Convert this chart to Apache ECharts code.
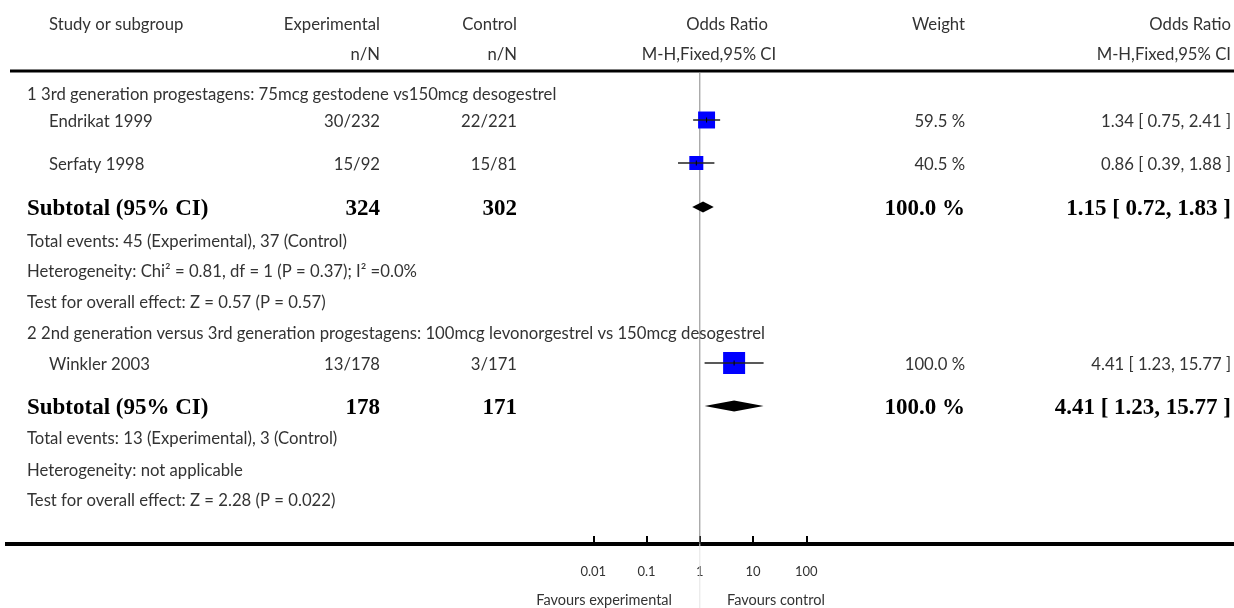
<!DOCTYPE html>
<html>
<head>
<meta charset="utf-8">
<title>Forest plot</title>
<script src="https://cdn.jsdelivr.net/npm/echarts@6/dist/echarts.min.js"></script>
<style>
  html, body { margin: 0; padding: 0; background: #fff; }
  #chart { width: 1234px; height: 608px; }
</style>
</head>
<body>
<div id="chart"></div>
<script>
// ---- Study-level data ----
const studyNames   = ['Endrikat 1999', 'Serfaty 1998', 'Winkler 2003'];
const studyGroup   = [0, 0, 1];
const expEvents    = [30, 15, 13];
const expTotal     = [232, 92, 178];
const ctrlEvents   = [22, 15, 3];
const ctrlTotal    = [221, 81, 171];
const studyOR      = [1.34, 0.86, 4.41];
const studyLow     = [0.75, 0.39, 1.23];
const studyHigh    = [2.41, 1.88, 15.77];
const studyWeight  = [59.5, 40.5, 100.0];

// ---- Subgroup data ----
const groupTitles  = [
  '1 3rd generation progestagens: 75mcg gestodene vs150mcg desogestrel',
  '2 2nd generation versus 3rd generation progestagens: 100mcg levonorgestrel vs 150mcg desogestrel'
];
const subExpTotal  = [324, 178];
const subCtrlTotal = [302, 171];
const subOR        = [1.15, 4.41];
const subLow       = [0.72, 1.23];
const subHigh      = [1.83, 15.77];
const subWeight    = [100.0, 100.0];
const subExpEvents = [45, 13];
const subCtrlEvents= [37, 3];
const heterogeneity = [
  'Heterogeneity: Chi² = 0.81, df = 1 (P = 0.37); I² =0.0%',
  'Heterogeneity: not applicable'
];
const overallEffect = [
  'Test for overall effect: Z = 0.57 (P = 0.57)',
  'Test for overall effect: Z = 2.28 (P = 0.022)'
];

// ---- Axis ticks ----
const tickValues = [0.01, 0.1, 1, 10, 100];
const tickLabels = ['0.01', '0.1', '1', '10', '100'];

// ---- Layout ----
const SANS = 'Lato';
const SERIF = '"Liberation Serif", "Times New Roman", serif';
const sansSize = 16.7;
const boldSize = 23;
const textColor = '#333';
const col = { name: 27, study: 49, exp: 380, ctrl: 517, weight: 965, ci: 1231 };
const axisY = 544;
const firstRowY = 95;
// vertical distance from each row to the next one
const rowGaps = [27, 43, 44, 33, 30, 31, 31, 31, 43, 31, 32, 30];
const markShift = -2;

// Build the row list and vertical positions.
const rows = [];
groupTitles.forEach((title, g) => {
  rows.push({ type: 'header', text: title });
  studyNames.forEach((n, i) => { if (studyGroup[i] === g) rows.push({ type: 'study', idx: i }); });
  rows.push({ type: 'subtotal', idx: g });
  rows.push({ type: 'info', text: 'Total events: ' + subExpEvents[g] + ' (Experimental), ' + subCtrlEvents[g] + ' (Control)' });
  rows.push({ type: 'info', text: heterogeneity[g] });
  rows.push({ type: 'info', text: overallEffect[g] });
});
let yPos = firstRowY;
rows.forEach((r, k) => {
  if (k > 0) yPos += rowGaps[k - 1];
  r.y = yPos;
});

const fmt2 = v => v.toFixed(2);
const ciText = (o, l, h) => fmt2(o) + ' [ ' + fmt2(l) + ', ' + fmt2(h) + ' ]';

// ---- Table text ----
const graphics = [];
function txt(x, y, s, align, opts) {
  opts = opts || {};
  graphics.push({
    type: 'text', x: x, y: y, silent: true, z: 5,
    style: {
      text: s, x: 0, y: 0,
      textAlign: align || 'left', textVerticalAlign: 'middle',
      font: (opts.bold ? 'bold ' : '') + (opts.size || sansSize) + 'px ' + (opts.family || SANS),
      fill: opts.color || textColor
    }
  });
}
// column headers
txt(col.study, 25, 'Study or subgroup', 'left');
txt(col.exp, 25, 'Experimental', 'right');
txt(col.ctrl, 25, 'Control', 'right');
txt(727, 25, 'Odds Ratio', 'center');
txt(col.weight, 25, 'Weight', 'right');
txt(col.ci, 25, 'Odds Ratio', 'right');
txt(col.exp, 55, 'n/N', 'right');
txt(col.ctrl, 55, 'n/N', 'right');
txt(709, 55, 'M-H,Fixed,95% CI', 'center');
txt(col.ci, 55, 'M-H,Fixed,95% CI', 'right');

const bold = { bold: true, size: boldSize, family: SERIF, color: '#000' };
rows.forEach(r => {
  if (r.type === 'header' || r.type === 'info') {
    txt(col.name, r.y, r.text, 'left');
  } else if (r.type === 'study') {
    const i = r.idx;
    txt(col.study, r.y, studyNames[i], 'left');
    txt(col.exp, r.y, expEvents[i] + '/' + expTotal[i], 'right');
    txt(col.ctrl, r.y, ctrlEvents[i] + '/' + ctrlTotal[i], 'right');
    txt(col.weight, r.y, studyWeight[i].toFixed(1) + ' %', 'right');
    txt(col.ci, r.y, ciText(studyOR[i], studyLow[i], studyHigh[i]), 'right');
  } else if (r.type === 'subtotal') {
    const g = r.idx;
    txt(col.name, r.y, 'Subtotal (95% CI)', 'left', bold);
    txt(col.exp, r.y, String(subExpTotal[g]), 'right', bold);
    txt(col.ctrl, r.y, String(subCtrlTotal[g]), 'right', bold);
    txt(col.weight, r.y, subWeight[g].toFixed(1) + ' %', 'right', bold);
    txt(col.ci, r.y, ciText(subOR[g], subLow[g], subHigh[g]), 'right', bold);
  }
});
// rules
graphics.push({ type: 'line', z: 1, silent: true, shape: { x1: 10, y1: 71, x2: 1234, y2: 71 }, style: { stroke: '#000', lineWidth: 3 } });
graphics.push({ type: 'line', z: 1, silent: true, shape: { x1: 5, y1: axisY, x2: 1234, y2: axisY }, style: { stroke: '#000', lineWidth: 4 } });
txt(672, 600, 'Favours experimental', 'right', { size: 14.5 });
txt(727, 600, 'Favours control', 'left', { size: 14.5 });

// ---- Forest marks ----
// [or, low, high, y, weight, kind]   kind: 0 study, 1 subtotal, 2 line of no effect
const markData = [];
rows.forEach(r => {
  if (r.type === 'study') {
    const i = r.idx;
    markData.push([studyOR[i], studyLow[i], studyHigh[i], r.y + markShift, studyWeight[i], 0]);
  } else if (r.type === 'subtotal') {
    const g = r.idx;
    markData.push([subOR[g], subLow[g], subHigh[g], r.y + markShift, subWeight[g], 1]);
  }
});
markData.unshift([1, 1, 1, 0, 0, 2]);

function renderItem(params, api) {
  const kind = api.value(5);
  if (kind === 2) {
    const top = api.coord([1, 72]);
    const mid = api.coord([1, axisY]);
    const bot = api.coord([1, 608]);
    return {
      type: 'group', children: [
        { type: 'line', shape: { x1: top[0], y1: top[1], x2: mid[0], y2: mid[1] }, style: { stroke: '#888', lineWidth: 1 } },
        { type: 'line', shape: { x1: mid[0], y1: mid[1], x2: bot[0], y2: bot[1] }, style: { stroke: '#e4e4e4', lineWidth: 1 } }
      ]
    };
  }
  const y = api.value(3);
  const c = api.coord([api.value(0), y]);
  const lo = api.coord([api.value(1), y]);
  const hi = api.coord([api.value(2), y]);
  if (kind === 1) {
    const h = 5.5;
    return {
      type: 'polygon',
      shape: { points: [[lo[0], c[1]], [c[0], c[1] - h], [hi[0], c[1]], [c[0], c[1] + h]] },
      style: { fill: '#000' }
    };
  }
  const side = 22 * Math.sqrt(api.value(4) / 100);
  return {
    type: 'group', children: [
      { type: 'rect', shape: { x: c[0] - side / 2, y: c[1] - side / 2, width: side, height: side }, style: { fill: '#0000ff' } },
      { type: 'line', shape: { x1: lo[0], y1: c[1], x2: hi[0], y2: c[1] }, style: { stroke: '#222', lineWidth: 1.5 } },
      { type: 'line', shape: { x1: c[0], y1: c[1] - 2.5, x2: c[0], y2: c[1] + 2.5 }, style: { stroke: '#000', lineWidth: 1 } }
    ]
  };
}

const chart = echarts.init(document.getElementById('chart'), null, { renderer: 'canvas' });
chart.setOption({
  animation: false,
  grid: { left: 593.3, right: 1234 - 806.3, top: 0, height: axisY, containLabel: false },
  xAxis: {
    type: 'log', logBase: 10, min: tickValues[0], max: tickValues[tickValues.length - 1],
    position: 'bottom',
    axisLine: { show: true, onZero: false, lineStyle: { color: '#000', width: 4 } },
    axisTick: { show: true, inside: true, length: 8, lineStyle: { color: '#000', width: 2 } },
    axisLabel: {
      show: true, margin: 21, color: textColor, fontFamily: SANS, fontSize: 13,
      formatter: v => { const k = tickValues.findIndex(t => Math.abs(Math.log10(t) - Math.log10(v)) < 1e-6); return k >= 0 ? tickLabels[k] : ''; }
    },
    splitLine: { show: false },
    minorTick: { show: false }
  },
  yAxis: { type: 'value', min: 0, max: axisY, inverse: true, show: false },
  series: [{
    type: 'custom', renderItem: renderItem, data: markData, clip: false, z: 3,
    encode: { x: [0, 1, 2], y: 3 }
  }],
  graphic: graphics
});
</script>
</body>
</html>
